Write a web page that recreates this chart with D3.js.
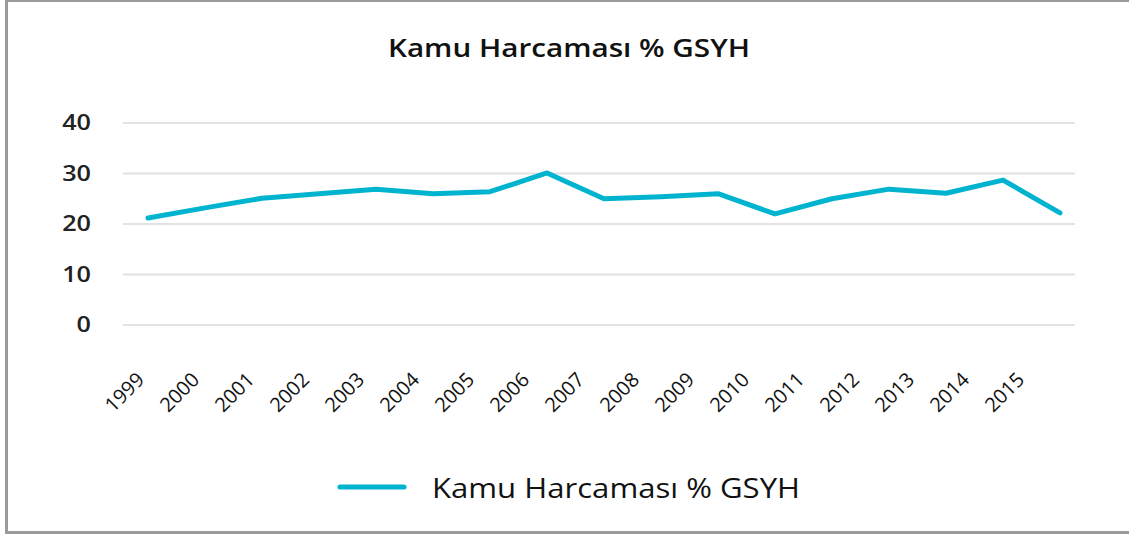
<!DOCTYPE html>
<html>
<head>
<meta charset="utf-8">
<script src="https://cdn.jsdelivr.net/npm/d3@7"></script>
<style>
  html, body { margin: 0; padding: 0; background: #fff; }
  svg { display: block; font-family: "Open Sans", "Noto Sans", sans-serif; }
</style>
</head>
<body>
<svg id="chart" width="1129" height="535"></svg>
<script>
const title = "Kamu Harcaması % GSYH";
const seriesName = "Kamu Harcaması % GSYH";
const years = ["1999","2000","2001","2002","2003","2004","2005","2006","2007","2008","2009","2010","2011","2012","2013","2014","2015"];
const values = [21.2, 23.2, 25.1, 26.0, 26.9, 26.0, 26.4, 30.1, 25.0, 25.4, 26.0, 22.0, 25.0, 26.9, 26.1, 28.7, 22.2];
const yTicks = [0, 10, 20, 30, 40];

const svg = d3.select("#chart");
const W = 1129, H = 535;
const color = "#00b4cf";

// frame
svg.append("rect").attr("x", 6.5).attr("y", 0.5).attr("width", W + 10).attr("height", 532)
  .attr("fill", "#fff").attr("stroke", "#9a9a9a").attr("stroke-width", 3);

const y = d3.scaleLinear().domain([0, 40]).range([325, 123]);
const x = d3.scalePoint().domain(years).range([148, 1060]);
const xLabel = d3.scalePoint().domain(years).range([145, 1025]);

// gridlines
svg.append("g").selectAll("line").data(yTicks).join("line")
  .attr("x1", 123).attr("x2", 1075)
  .attr("y1", d => y(d)).attr("y2", d => y(d))
  .attr("stroke", "#e2e2e2").attr("stroke-width", 2);

// y axis labels
const yAxis = d3.axisLeft(y).tickValues(yTicks).tickSize(0).tickPadding(0);
const gy = svg.append("g").attr("transform", "translate(91,0)").call(yAxis);
gy.select(".domain").remove();
gy.selectAll("text").attr("font-size", 21).attr("font-weight", 600).attr("fill", "#222")
  .attr("font-family", "'Open Sans', sans-serif")
  .attr("transform", "scale(1.2,1)");

// x axis labels
const xAxis = d3.axisBottom(xLabel).tickSize(0).tickPadding(0);
const gx = svg.append("g").attr("transform", "translate(0,381)").call(xAxis);
gx.select(".domain").remove();
gx.selectAll("text")
  .attr("font-size", 20).attr("fill", "#111").attr("font-family", "'Open Sans', sans-serif")
  .attr("text-anchor", "end")
  .attr("transform", "rotate(-45)")
  .attr("dx", 0).attr("dy", 0)
  .attr("x", 0).attr("y", 0);

// line
const line = d3.line().x((d, i) => x(years[i])).y(d => y(d));
svg.append("path").datum(values).attr("d", line)
  .attr("fill", "none").attr("stroke", color).attr("stroke-width", 5)
  .attr("stroke-linecap", "round").attr("stroke-linejoin", "round");

// title
svg.append("text").attr("x", 388).attr("y", 57)
  .attr("font-size", 25).attr("font-weight", 600).attr("fill", "#111")
  .attr("textLength", 362).attr("lengthAdjust", "spacingAndGlyphs").text(title);

// legend
svg.append("line").attr("x1", 340).attr("x2", 404).attr("y1", 487).attr("y2", 487)
  .attr("stroke", color).attr("stroke-width", 5).attr("stroke-linecap", "round");
svg.append("text").attr("x", 432).attr("y", 498).attr("font-size", 27).attr("font-weight", 500)
  .attr("fill", "#111")
  .attr("textLength", 368).attr("lengthAdjust", "spacingAndGlyphs").text(seriesName);
</script>
</body>
</html>
